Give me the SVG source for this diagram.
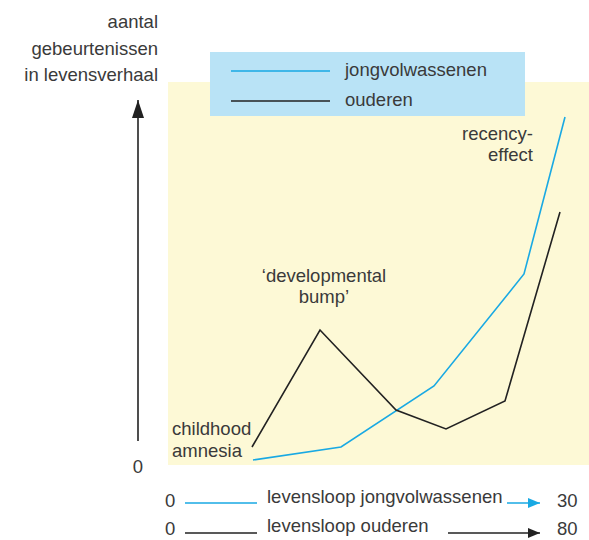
<svg xmlns="http://www.w3.org/2000/svg" width="589" height="540" viewBox="0 0 589 540">
  <style>
    text { font-family: "Liberation Sans", Arial, sans-serif; font-size: 18.5px; fill: #3a3a3a; }
    .end { text-anchor: end; }
    .mid { text-anchor: middle; }
    .blue { stroke: #19a9e3; stroke-width: 1.6; fill: none; }
    .black { stroke: #222; stroke-width: 1.6; fill: none; }
  </style>
  <defs>
    <marker id="arrowBlue" viewBox="0 0 12 10" refX="12" refY="5" markerWidth="12" markerHeight="10" markerUnits="userSpaceOnUse" orient="auto">
      <path d="M0,0 L12,5 L0,10 Z" fill="#19a9e3"/>
    </marker>
    <marker id="arrowBlack" viewBox="0 0 12 10" refX="12" refY="5" markerWidth="12" markerHeight="10" markerUnits="userSpaceOnUse" orient="auto">
      <path d="M0,0 L12,5 L0,10 Z" fill="#222"/>
    </marker>
    <marker id="arrowAxis" viewBox="0 0 18 12" refX="18" refY="6" markerWidth="18" markerHeight="12" markerUnits="userSpaceOnUse" orient="auto">
      <path d="M0,0 L18,6 L0,12 Z" fill="#222"/>
    </marker>
  </defs>

  <!-- plot area -->
  <rect id="plot-area" x="168" y="82" width="421" height="383" fill="#fdf9d6"/>

  <!-- legend -->
  <g id="legend">
    <rect x="210" y="52" width="315" height="64" fill="#b9e3f6"/>
    <line class="blue" x1="231" y1="71" x2="330" y2="71"/>
    <line class="black" x1="231" y1="101" x2="330" y2="101"/>
    <text x="345" y="76">jongvolwassenen</text>
    <text x="345" y="106">ouderen</text>
  </g>

  <!-- vertical axis -->
  <g id="y-axis">
    <line class="black" x1="138" y1="441" x2="138" y2="100" marker-end="url(#arrowAxis)"/>
    <text class="end" x="158" y="28">aantal</text>
    <text class="end" x="158" y="55">gebeurtenissen</text>
    <text class="end" x="158" y="81">in levensverhaal</text>
    <text class="mid" x="138" y="473">0</text>
  </g>

  <!-- curves -->
  <g id="curves">
    <polyline id="curve-young" class="blue" points="253,460 341,447 434,386 524,274 565,117"/>
    <polyline id="curve-old" class="black" points="252,447 320,330 396,410 446,429 505,401 560,212"/>
  </g>

  <!-- annotations -->
  <g id="labels">
    <text x="172" y="435">childhood</text>
    <text x="172" y="457">amnesia</text>
    <text class="mid" x="324" y="282">‘developmental</text>
    <text class="mid" x="324" y="303">bump’</text>
    <text class="end" x="533" y="140">recency-</text>
    <text class="end" x="533" y="161">effect</text>
  </g>

  <!-- horizontal axes -->
  <g id="x-axes">
    <text x="165" y="507">0</text>
    <line class="blue" x1="185" y1="503" x2="257" y2="503"/>
    <text x="267" y="503">levensloop jongvolwassenen</text>
    <line class="blue" x1="507" y1="503" x2="540" y2="503" marker-end="url(#arrowBlue)"/>
    <text x="557" y="507">30</text>

    <text x="165" y="535">0</text>
    <line class="black" x1="185" y1="533" x2="257" y2="533"/>
    <text x="267" y="532">levensloop ouderen</text>
    <line class="black" x1="448" y1="533" x2="540" y2="533" marker-end="url(#arrowBlack)"/>
    <text x="557" y="535">80</text>
  </g>
</svg>
